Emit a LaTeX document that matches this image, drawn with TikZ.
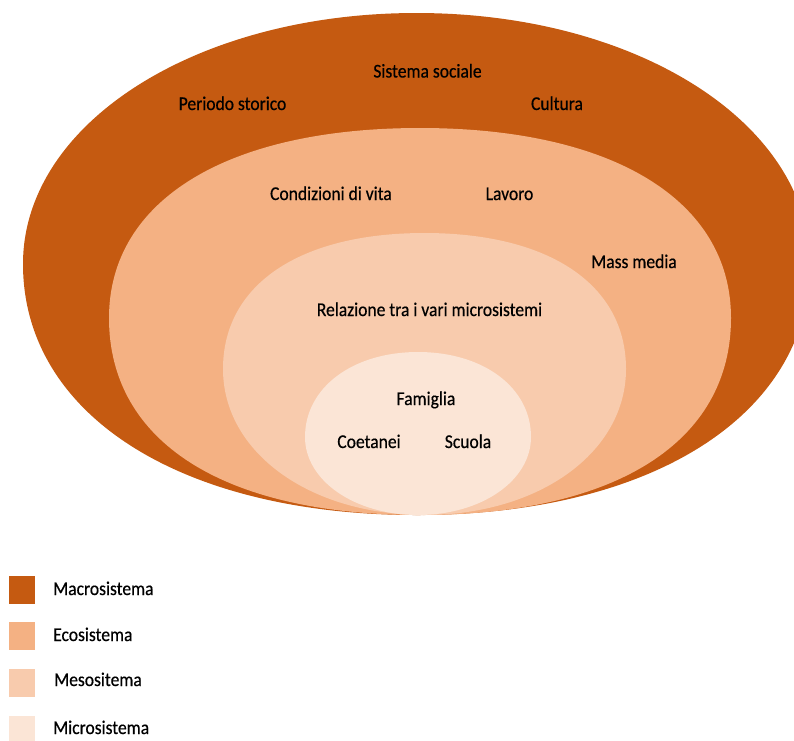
\documentclass[tikz,border=0pt]{standalone}
\usepackage{fontspec}
\setmainfont{Carlito}[FakeStretch=0.9,FakeBold=0.5]
\definecolor{macro}{HTML}{C55A11}
\definecolor{eco}{HTML}{F4B183}
\definecolor{meso}{HTML}{F8CBAD}
\definecolor{micro}{HTML}{FBE5D6}
% full oval: #1 left x, #2 right x, #3 top y, #4 bottom y,
% #5 y of the widest point, #6 top fullness, #7 bottom fullness
% (a fullness of 0.5523 gives a true ellipse)
\newcommand\ovalpath[7]{%
  (#1,#5) .. controls (#1,{#5-#6*(#5-#3)}) and ({(#1+#2)/2-#6*(#2-#1)/2},#3) .. ({(#1+#2)/2},#3)
  .. controls ({(#1+#2)/2+#6*(#2-#1)/2},#3) and (#2,{#5-#6*(#5-#3)}) .. (#2,#5)
  .. controls (#2,{#5+#7*(#4-#5)}) and ({(#1+#2)/2+#7*(#2-#1)/2},#4) .. ({(#1+#2)/2},#4)
  .. controls ({(#1+#2)/2-#7*(#2-#1)/2},#4) and (#1,{#5+#7*(#4-#5)}) .. cycle}
\begin{document}
\begin{tikzpicture}[x=1pt,y=-1pt,
  lbl/.style={anchor=base,inner sep=0pt,font=\fontsize{19.5}{22}\selectfont},
  keytext/.style={anchor=base west,inner sep=0pt,font=\fontsize{19.5}{22}\selectfont},
  keybox/.style={anchor=north west,minimum width=26pt,minimum height=28pt,inner sep=0pt}]
\useasboundingbox (0,0) rectangle (794,740);
\begin{scope}
\clip (0,0) rectangle (794,740);
% nested ovals, all touching at the bottom
\fill[macro] \ovalpath{23}{810}{13}{515}{264}{0.56}{0.6};
\fill[eco]   \ovalpath{109}{731}{128}{515}{318}{0.62}{0.63};
\fill[meso]  \ovalpath{223}{626}{233}{515}{369}{0.62}{0.57};
\fill[micro] \ovalpath{305}{531}{352}{515}{437}{0.58}{0.56};
\end{scope}
% macrosystem
\node[lbl] (sociale) at (427.5,77.5) {Sistema sociale};
\node[lbl] (periodo) at (232.5,110) {Periodo storico};
\node[lbl] (cultura) at (557,110) {Cultura};
% exosystem
\node[lbl] (condizioni) at (331,200) {Condizioni di vita};
\node[lbl] (lavoro) at (509.5,200) {Lavoro};
\node[lbl] (media) at (634,268) {Mass media};
% mesosystem
\node[lbl] (relazione) at (429.5,316) {Relazione tra i vari microsistemi};
% microsystem
\node[lbl] (famiglia) at (426,405) {Famiglia};
\node[lbl] (coetanei) at (369,448) {Coetanei};
\node[lbl] (scuola) at (468,448) {Scuola};
% legend
\node[keybox,fill=macro] (k1) at (9,576) {};
\node[keybox,fill=eco]   (k2) at (9,622) {};
\node[keybox,fill=meso]  (k3) at (9,669) {};
\node[keybox,fill=micro] (k4) at (9,716) {};
\node[keytext] (t1) at (53,595) {Macrosistema};
\node[keytext] (t2) at (53,641) {Ecosistema};
\node[keytext] (t3) at (54,686) {Mesositema};
\node[keytext] (t4) at (53,734) {Microsistema};
\end{tikzpicture}
\end{document}
